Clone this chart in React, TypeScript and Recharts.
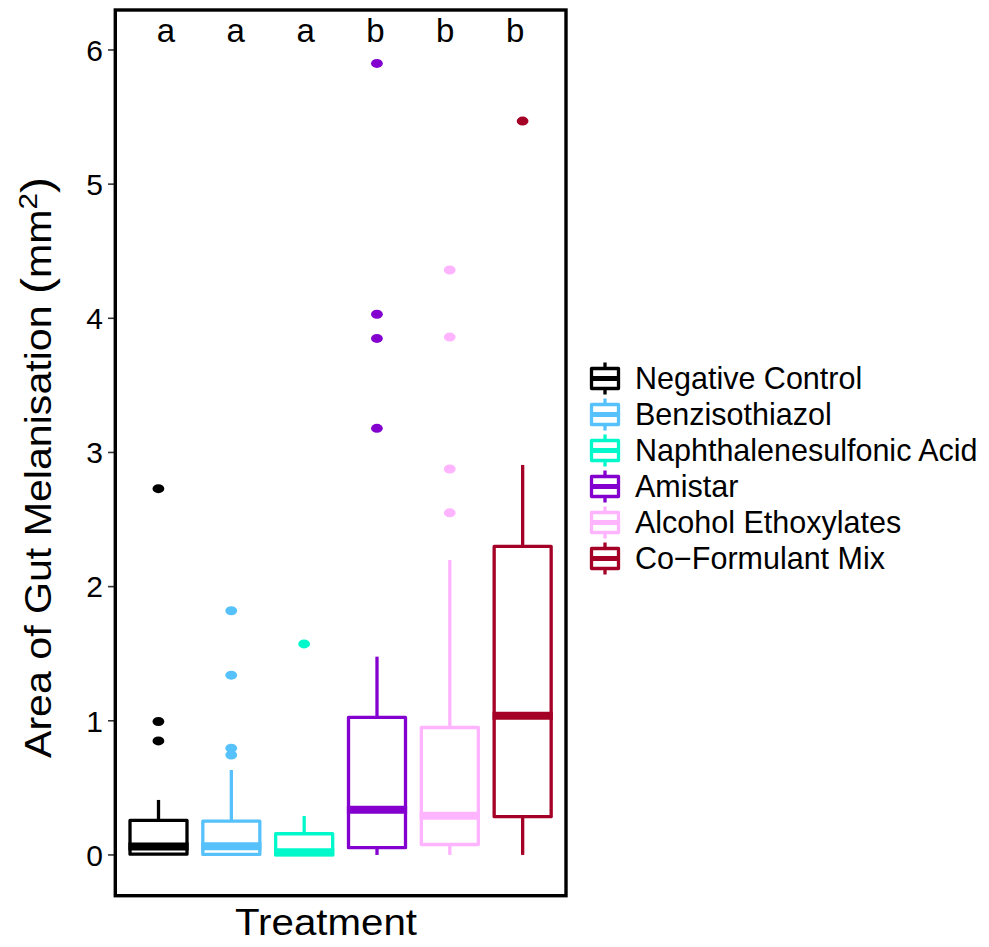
import React from 'react';
import { ComposedChart, Bar, Scatter, XAxis, YAxis } from 'recharts';

const categories = ['Negative Control', 'Benzisothiazol', 'Naphthalenesulfonic Acid', 'Amistar', 'Alcohol Ethoxylates', 'Co-Formulant Mix'];
const legendLabels = ['Negative Control', 'Benzisothiazol', 'Naphthalenesulfonic Acid', 'Amistar', 'Alcohol Ethoxylates', 'Co\u2212Formulant Mix'];
const colors = ['#000000', '#56C1FA', '#00F8CB', '#8300CE', '#FFB4FF', '#A50026'];
const whiskerLow = [0, 0, 0, 0, 0, 0];
const q1 = [0.006, 0.004, 0, 0.054, 0.078, 0.285];
const median = [0.063, 0.064, 0.02, 0.337, 0.292, 1.037];
const q3 = [0.257, 0.252, 0.158, 1.025, 0.95, 2.3];
const whiskerHigh = [0.41, 0.633, 0.29, 1.478, 2.199, 2.907];
const outliers = [
  [2.73, 0.995, 0.85],
  [1.82, 1.34, 0.795, 0.745],
  [1.573],
  [5.9, 4.03, 3.85, 3.18],
  [4.36, 3.86, 2.877, 2.55],
  [5.47],
];
const sigLetters = ['a', 'a', 'a', 'b', 'b', 'b'];
const sigY = 6.06;
const yTicks = [0, 1, 2, 3, 4, 5, 6];
const yDomain = [-0.306, 6.298];

const boxData = categories.map((name, i) => ({
  name,
  lo: whiskerLow[i],
  q1: q1[i],
  med: median[i],
  q3: q3[i],
  hi: whiskerHigh[i],
  color: colors[i],
}));
const outlierData = categories.flatMap((name, i) => outliers[i].map((v) => ({ name, value: v, color: colors[i] })));
const letterData = categories.map((name, i) => ({ name, value: sigY, letter: sigLetters[i] }));

const FONT = '"Liberation Sans", Arial, Helvetica, sans-serif';

const BoxShape = (props: any) => {
  const { x, y, width, height, payload } = props;
  if (!payload || width == null) return null;
  const top = Math.min(y, y + height);
  const h = Math.abs(height);
  const k = h / (payload.q3 - payload.q1);
  const py = (v: number) => top + (payload.q3 - v) * k;
  const cx = x + width / 2;
  const c = payload.color;
  return (
    <g>
      <line x1={cx} x2={cx} y1={py(payload.hi)} y2={py(payload.q3)} stroke={c} strokeWidth={3.3} />
      <line x1={cx} x2={cx} y1={py(payload.q1)} y2={py(payload.lo)} stroke={c} strokeWidth={3.3} />
      <rect x={x} y={top} width={width} height={h} fill="#ffffff" stroke={c} strokeWidth={3.3} strokeLinejoin="round" />
      <line x1={x - 1.6} x2={x + width + 1.6} y1={py(payload.med)} y2={py(payload.med)} stroke={c} strokeWidth={8} />
    </g>
  );
};

const OutlierShape = (props: any) => {
  const { cx, cy, payload } = props;
  if (cx == null || cy == null) return null;
  return <ellipse cx={cx} cy={cy} rx={5.9} ry={4.5} fill={payload.color} />;
};

const LetterShape = (props: any) => {
  const { cx, cy, payload } = props;
  if (cx == null || cy == null) return null;
  return (
    <text x={cx} y={cy} textAnchor="middle" fontSize={33} fontFamily={FONT} fill="#000">
      {payload.letter}
    </text>
  );
};

const YTick = (props: any) => {
  const { x, y, payload } = props;
  return (
    <text x={x} y={y} dy="0.36em" textAnchor="end" fontSize={30} fontFamily={FONT} fill="#000">
      {payload.value}
    </text>
  );
};

export default function App() {
  return (
    <div style={{ position: 'absolute', left: 0, top: 0, width: 989, height: 947, background: '#fff' }}>
      <div style={{ position: 'absolute', left: 0, top: 0 }}>
        <ComposedChart
          width={989}
          height={947}
          data={boxData}
          margin={{ top: 10, right: 423, bottom: 51, left: 0 }}
        >
          <XAxis xAxisId="main" dataKey="name" type="category" hide padding={{ left: 7, right: 7 }} allowDuplicatedCategory={false} />
          <XAxis xAxisId="sig" dataKey="name" type="category" hide padding={{ left: 16, right: 16 }} allowDuplicatedCategory={false} />
          <YAxis
            type="number"
            domain={yDomain}
            ticks={yTicks}
            allowDataOverflow
            interval={0}
            width={115}
            axisLine={false}
            tickLine={{ stroke: '#333333', strokeWidth: 1.6 }}
            tickSize={7}
            tickMargin={5}
            tick={<YTick />}
          />
          <Bar xAxisId="main" dataKey={(d: any) => [d.q1, d.q3]} barSize={57} shape={<BoxShape />} isAnimationActive={false} />
          <Scatter xAxisId="main" data={outlierData} dataKey="value" shape={<OutlierShape />} isAnimationActive={false} />
          <Scatter xAxisId="sig" data={letterData} dataKey="value" shape={<LetterShape />} isAnimationActive={false} />
        </ComposedChart>
      </div>
      <svg width={989} height={947} style={{ position: 'absolute', left: 0, top: 0, pointerEvents: 'none' }}>
        <rect x={115.3} y={10} width={450.7} height={885.7} fill="none" stroke="#000" strokeWidth={3.4} />
        <text
          transform="translate(50.5,467.5) rotate(-90)"
          textAnchor="middle"
          fontSize={36}
          fontFamily={FONT}
          fill="#000"
          textLength={581}
          lengthAdjust="spacingAndGlyphs"
        >
          Area of Gut Melanisation <tspan fontSize={42}>(</tspan>mm<tspan dy={-14} fontSize={26}>2</tspan><tspan dy={14} fontSize={42}>)</tspan>
        </text>
        <text x={326} y={935} textAnchor="middle" fontSize={36} fontFamily={FONT} fill="#000" textLength={182} lengthAdjust="spacingAndGlyphs">
          Treatment
        </text>
        {legendLabels.map((lab, i) => {
          const cy = 378.5 + i * 36;
          const c = colors[i];
          return (
            <g key={lab}>
              <line x1={605} x2={605} y1={cy - 16} y2={cy + 16} stroke={c} strokeWidth={3.3} />
              <rect x={591.5} y={cy - 10} width={27} height={20} fill="#fff" stroke={c} strokeWidth={3.3} strokeLinejoin="round" />
              <line x1={590} x2={620} y1={cy} y2={cy} stroke={c} strokeWidth={5} />
              <text x={635} y={cy + 10.8} fontSize={30.5} fontFamily={FONT} fill="#000">
                {lab}
              </text>
            </g>
          );
        })}
      </svg>
    </div>
  );
}
